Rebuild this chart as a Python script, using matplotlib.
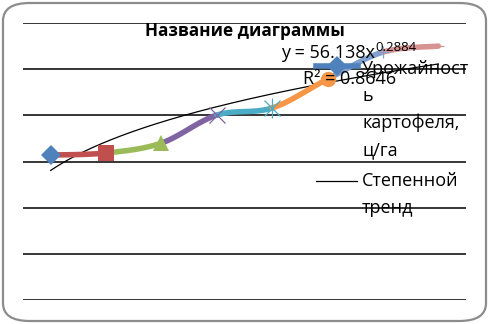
import numpy as np
import matplotlib
matplotlib.use('Agg')
import matplotlib.pyplot as plt
from matplotlib.patches import FancyBboxPatch

# data (ц/га)
points = [1, 2, 3, 4, 5, 6, 7, 8]
yield_values = [62.8, 63.7, 68.0, 80.1, 83.2, 95.7, 107.4, 110.0]
trend_a = 56.138
trend_b = 0.2884
r_squared = 0.8646

title = 'Название диаграммы'
series_label = 'Урожайност\nь\nкартофеля,\nц/га'
trend_label = 'Степенной\nтренд'

# Excel-style "vary colors by point" palette and markers
colors = ['#4F81BD', '#C0504D', '#9BBB59', '#8064A2', '#4BACC6', '#F79646', '#7E9FD0', '#D69392']
markers = ['D', 's', '^', 'x', 'x', 'o', '+', '_']

plt.rcParams['font.family'] = ['Open Sans', 'DejaVu Sans']

W, H = 489, 324
fig = plt.figure(figsize=(W / 100, H / 100), dpi=100)
fig.patch.set_facecolor('white')

# rounded chart border
border = FancyBboxPatch((3 / W, 3 / H), (W - 6) / W, (H - 6) / H,
                        boxstyle='round,pad=0,rounding_size=0.055',
                        transform=fig.transFigure, facecolor='white',
                        edgecolor='#8c8c8c', linewidth=1.6, zorder=-5)
fig.patches.append(border)


def fx(px):
    return px / W


def fy(py):
    return 1 - py / H


ax = fig.add_axes([fx(23), fy(300), (466 - 23) / W, (300 - 23) / H])
ax.set_facecolor('none')
ax.set_xlim(0.5, 8.5)
ax.set_ylim(0, 120)
for s in ax.spines.values():
    s.set_visible(False)
ax.set_xticks([])
ax.set_yticks([])
for g in range(0, 121, 20):
    ax.axhline(g, color='black', linewidth=1.1, zorder=1)

# power trend line
tx = np.linspace(points[0], points[-1], 200)
ax.plot(tx, trend_a * tx ** trend_b, color='black', linewidth=0.9, zorder=2)


# smoothed line (Bezier like Excel), each segment coloured by its end point
def bezier_segment(p0, p1, p2, p3, n=40):
    c1 = p1 + (p2 - p0) / 6.0
    c2 = p2 - (p3 - p1) / 6.0
    t = np.linspace(0, 1, n)[:, None]
    return ((1 - t) ** 3) * p1 + 3 * ((1 - t) ** 2) * t * c1 + 3 * (1 - t) * t ** 2 * c2 + t ** 3 * p2


pts = np.column_stack([points, yield_values]).astype(float)
last = len(pts) - 1
for i in range(last):
    seg = bezier_segment(pts[max(i - 1, 0)], pts[i], pts[i + 1], pts[min(i + 2, last)])
    ax.plot(seg[:, 0], seg[:, 1], color=colors[i + 1], linewidth=4,
            solid_capstyle='round', zorder=3)

sizes = [10, 11, 12, 11, 11, 11, 8, 8]
for i, (x, y) in enumerate(zip(points, yield_values)):
    m = markers[i]
    thin = m in ('x', '+', '_')
    ax.plot([x], [y], marker=m, markersize=sizes[i], color=colors[i],
            markeredgewidth=0.9 if thin else 0, linestyle='none', zorder=4)
    if i == 4:
        ax.plot([x], [y], marker='|', markersize=14, color=colors[i],
                markeredgewidth=0.9, linestyle='none', zorder=4)

# overlay axes in pixel coordinates for text and legend
top = fig.add_axes([0, 0, 1, 1], facecolor='none')
top.set_xlim(0, W)
top.set_ylim(H, 0)
top.axis('off')

top.text(245, 31, title, ha='center', va='center',
         fontsize=12.3, fontweight='bold', zorder=6)

eq = top.text(281, 53, 'y = 56.138x', ha='left', va='center',
              fontsize=13, zorder=6)
top.annotate('0.2884', xy=(1, 0.45), xycoords=eq, ha='left', va='bottom',
             fontsize=9.5, zorder=6, annotation_clip=False)
top.text(303, 79, 'R² = 0.8646', ha='left', va='center',
         fontsize=13, zorder=6)

# legend
top.plot([316, 358], [66, 66], color=colors[0], linewidth=4, zorder=3)
top.plot([337], [66], marker='D', markersize=10, color=colors[0],
         markeredgewidth=0, zorder=4)
top.plot([316, 357], [181, 181], color='black', linewidth=0.9)
top.text(362, 60, series_label, ha='left', va='top', fontsize=13,
         linespacing=1.62, zorder=6)
top.text(362, 172, trend_label, ha='left', va='top', fontsize=13,
         linespacing=1.62, zorder=6)

fig.savefig('out.png', dpi=100)
